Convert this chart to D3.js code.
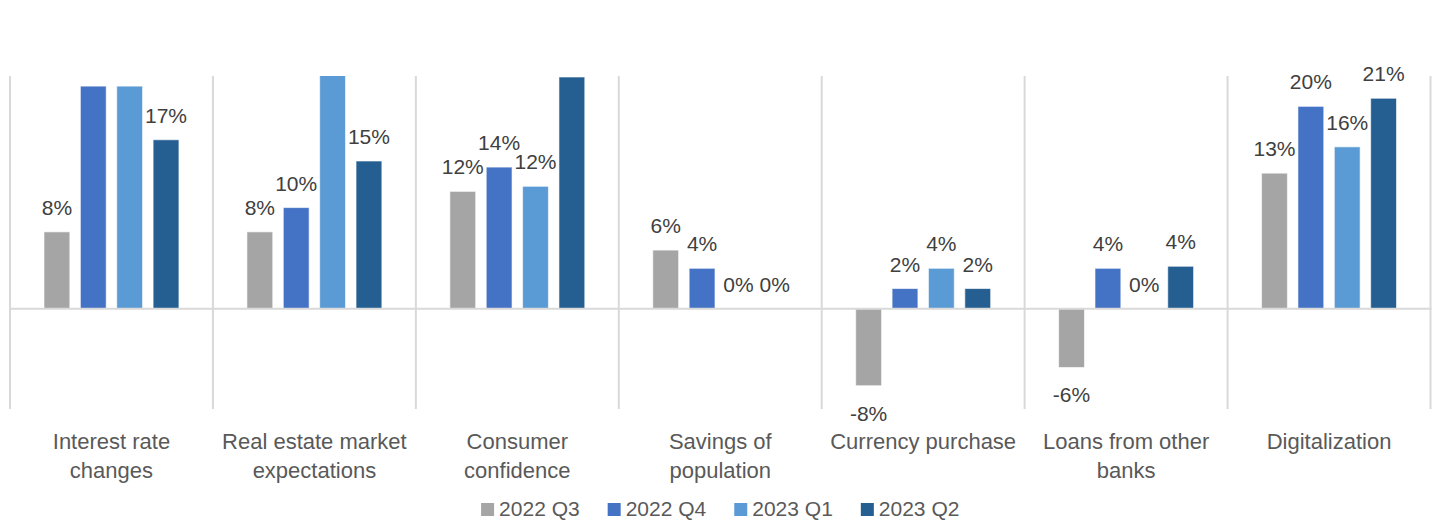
<!DOCTYPE html>
<html>
<head>
<meta charset="utf-8">
<script src="https://cdn.jsdelivr.net/npm/d3@7"></script>
<style>
  html, body { margin: 0; padding: 0; background: #fff; }
  svg { display: block; }
  text { font-family: "Liberation Sans", Arial, sans-serif; }
</style>
</head>
<body>
<svg id="chart" width="1434" height="531"></svg>
<script>
// ---- data ----
const categories = [
  "Interest rate changes",
  "Real estate market expectations",
  "Consumer confidence",
  "Savings of population",
  "Currency purchase",
  "Loans from other banks",
  "Digitalization"
];
const categoryLines = [
  ["Interest rate", "changes"],
  ["Real estate market", "expectations"],
  ["Consumer", "confidence"],
  ["Savings of", "population"],
  ["Currency purchase"],
  ["Loans from other", "banks"],
  ["Digitalization"]
];
const seriesNames = ["2022 Q3", "2022 Q4", "2023 Q1", "2023 Q2"];
const q3_2022 = [7.6, 7.6, 11.6, 5.8, -7.6, -5.8, 13.4];
const q4_2022 = [22.0, 10.0, 14.0, 4.0, 2.0, 4.0, 20.0];
const q1_2023 = [22.0, 24.0, 12.1, 0, 4.0, 0, 16.0];
const q2_2023 = [16.7, 14.6, 22.9, 0, 2.0, 4.2, 20.8];
const yDomain = [-10, 23];

const seriesValues = [q3_2022, q4_2022, q1_2023, q2_2023];
const colors = ["#A5A5A5", "#4472C4", "#5B9BD5", "#255E91"];

// ---- layout ----
const svg = d3.select("#chart");
const plotLeft = 10, plotRight = 1430.5, plotTop = 76, plotBottom = 410;

const x0 = d3.scaleBand().domain(categories).range([plotLeft, plotRight]).padding(0);
const x1 = d3.scaleBand().domain(seriesNames).range([34, x0.bandwidth() - 34]).paddingInner(0.29).paddingOuter(0);
const y = d3.scaleLinear().domain(yDomain).range([plotBottom, plotTop]);
const color = d3.scaleOrdinal().domain(seriesNames).range(colors);
const fmt = v => d3.format(".0%")(v).replace("\u2212", "-");

svg.append("defs").append("clipPath").attr("id", "plotClip")
  .append("rect").attr("x", plotLeft).attr("y", plotTop)
  .attr("width", plotRight - plotLeft).attr("height", plotBottom - plotTop);

// category separators
const seps = categories.map(c => x0(c)).concat([plotRight]);
svg.append("g").selectAll("line").data(seps).join("line")
  .attr("x1", d => d).attr("x2", d => d)
  .attr("y1", plotTop).attr("y2", plotBottom - 1)
  .attr("stroke", "#D9D9D9").attr("stroke-width", 2);

// bars
const flat = [];
categories.forEach((c, i) => {
  seriesNames.forEach((s, j) => {
    flat.push({ cat: c, s: s, v: seriesValues[j][i] });
  });
});

svg.append("g").attr("clip-path", "url(#plotClip)")
  .selectAll("rect").data(flat.filter(d => d.v !== 0)).join("rect")
  .attr("x", d => x0(d.cat) + x1(d.s))
  .attr("width", x1.bandwidth())
  .attr("y", d => y(Math.max(0, d.v)))
  .attr("height", d => Math.abs(y(d.v) - y(0)))
  .attr("fill", d => color(d.s))
  .attr("stroke", "#ffffff").attr("stroke-opacity", 0.6).attr("stroke-width", 1);

// zero line
svg.append("line")
  .attr("x1", plotLeft).attr("x2", plotRight + 1)
  .attr("y1", y(0)).attr("y2", y(0))
  .attr("stroke", "#D9D9D9").attr("stroke-width", 2);

// data labels (labels of bars running past the plot top are not shown)
svg.append("g").selectAll("text").data(flat.filter(d => d.v <= 21.5)).join("text")
  .attr("x", d => x0(d.cat) + x1(d.s) + x1.bandwidth() / 2)
  .attr("y", d => d.v < 0 ? y(d.v) + 35 : y(d.v) - 17)
  .attr("text-anchor", "middle")
  .attr("font-size", 21)
  .attr("fill", "#404040")
  .text(d => fmt(d.v / 100));

// category labels
const catG = svg.append("g");
categories.forEach((c, i) => {
  const t = catG.append("text")
    .attr("x", x0(c) + x0.bandwidth() / 2)
    .attr("y", 449)
    .attr("text-anchor", "middle")
    .attr("font-size", 22)
    .attr("fill", "#595959");
  categoryLines[i].forEach((line, k) => {
    t.append("tspan").attr("x", x0(c) + x0.bandwidth() / 2)
      .attr("dy", k === 0 ? 0 : 29).text(line);
  });
});

// legend
const legend = svg.append("g");
const items = legend.selectAll("g").data(seriesNames).join("g");
items.append("rect").attr("width", 13).attr("height", 13).attr("y", 503)
  .attr("fill", d => color(d));
items.append("text").attr("x", 18).attr("y", 516)
  .attr("font-size", 21).attr("fill", "#595959").text(d => d);
let cursor = 0;
const widths = [];
items.each(function () {
  const w = d3.select(this).select("text").node().getComputedTextLength();
  widths.push(18 + w);
});
const gap = 28;
const total = d3.sum(widths) + gap * (widths.length - 1);
cursor = (plotLeft + plotRight) / 2 - total / 2;
items.attr("transform", (d, i) => {
  const tx = cursor;
  cursor += widths[i] + gap;
  return `translate(${tx},0)`;
});
</script>
</body>
</html>
